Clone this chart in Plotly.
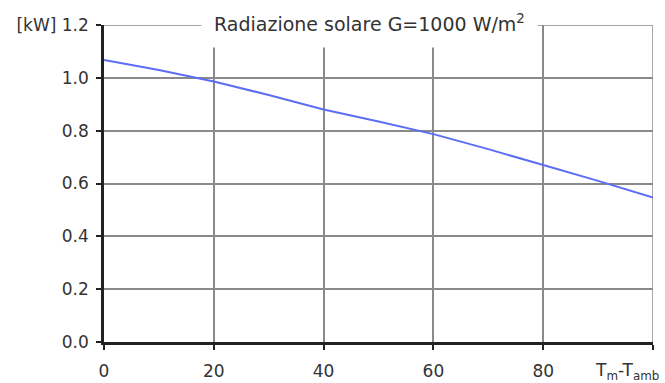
import plotly.graph_objects as go

# Collector output power vs. temperature difference (G = 1000 W/m2)
delta_t = [0, 10, 20, 30, 40, 50, 60, 70, 80, 90, 100]
power_kw = [1.068, 1.03, 0.986, 0.935, 0.88, 0.835, 0.787, 0.73, 0.67, 0.61, 0.547]

x_ticks = [0, 20, 40, 60, 80, 100]
x_ticktext = ["0", "20", "40", "60", "80", ""]
y_ticks = [0.0, 0.2, 0.4, 0.6, 0.8, 1.0, 1.2]
y_ticktext = ["0.0", "0.2", "0.4", "0.6", "0.8", "1.0", "[kW] 1.2"]

title_text = "Radiazione solare G=1000 W/m<sup>2</sup>"
x_label = "T<sub>m</sub>-T<sub>amb</sub>"

FONT = "DejaVu Sans"
TEXT = "#333333"
GRID = "#8a8a8a"

fig = go.Figure()
fig.add_trace(go.Scatter(
    x=delta_t, y=power_kw, mode="lines",
    line=dict(color="#5b6ef5", width=2),
    showlegend=False, hoverinfo="skip",
))

W, H = 665, 383
ml, mr, mt, mb = 104, 12, 25, 41
pw, ph = W - ml - mr, H - mt - mb

fig.update_layout(
    width=W, height=H,
    margin=dict(l=ml, r=mr, t=mt, b=mb, autoexpand=False),
    paper_bgcolor="white", plot_bgcolor="white",
    font=dict(family=FONT, size=17, color=TEXT),
    xaxis=dict(
        range=[0, 100], tickvals=x_ticks, ticktext=x_ticktext,
        showgrid=True, gridcolor=GRID, gridwidth=1.5,
        showline=True, linecolor="#222", linewidth=2.5,
        ticks="outside", ticklen=5, tickcolor="#222", tickwidth=1.5,
        zeroline=False, tickfont=dict(size=17, color=TEXT),
        ticklabelstandoff=7, automargin=False,
    ),
    yaxis=dict(
        range=[0, 1.2], tickvals=y_ticks, ticktext=y_ticktext,
        showgrid=True, gridcolor=GRID, gridwidth=1.5,
        showline=True, linecolor="#222", linewidth=2.5,
        ticks="outside", ticklen=5, tickcolor="#222", tickwidth=1.5,
        zeroline=False, tickfont=dict(size=17, color=TEXT),
        ticklabelstandoff=4, automargin=False,
    ),
)

# top and right borders of the plotting frame
fig.add_shape(type="line", xref="x", yref="y", x0=0, x1=100, y0=1.2, y1=1.2,
              line=dict(color=GRID, width=1.5), layer="below")
fig.add_shape(type="line", xref="x", yref="y", x0=100, x1=100, y0=0, y1=1.2,
              line=dict(color=GRID, width=1.5), layer="below")

# boxed title sitting on the top border
fig.add_annotation(
    text=title_text, xref="paper", yref="paper",
    x=(369 - ml) / pw, y=1 + 2 / ph, xanchor="center", yanchor="middle",
    showarrow=False, bgcolor="white", borderpad=12,
    font=dict(family=FONT, size=19, color=TEXT),
)

# x-axis quantity written in place of the last tick label
fig.add_annotation(
    text=x_label, xref="paper", yref="paper",
    x=(593 - ml) / pw, y=-(371 - (mt + ph)) / ph, xanchor="left", yanchor="middle",
    showarrow=False, font=dict(family=FONT, size=17, color=TEXT),
)

fig.write_html("out.html")
